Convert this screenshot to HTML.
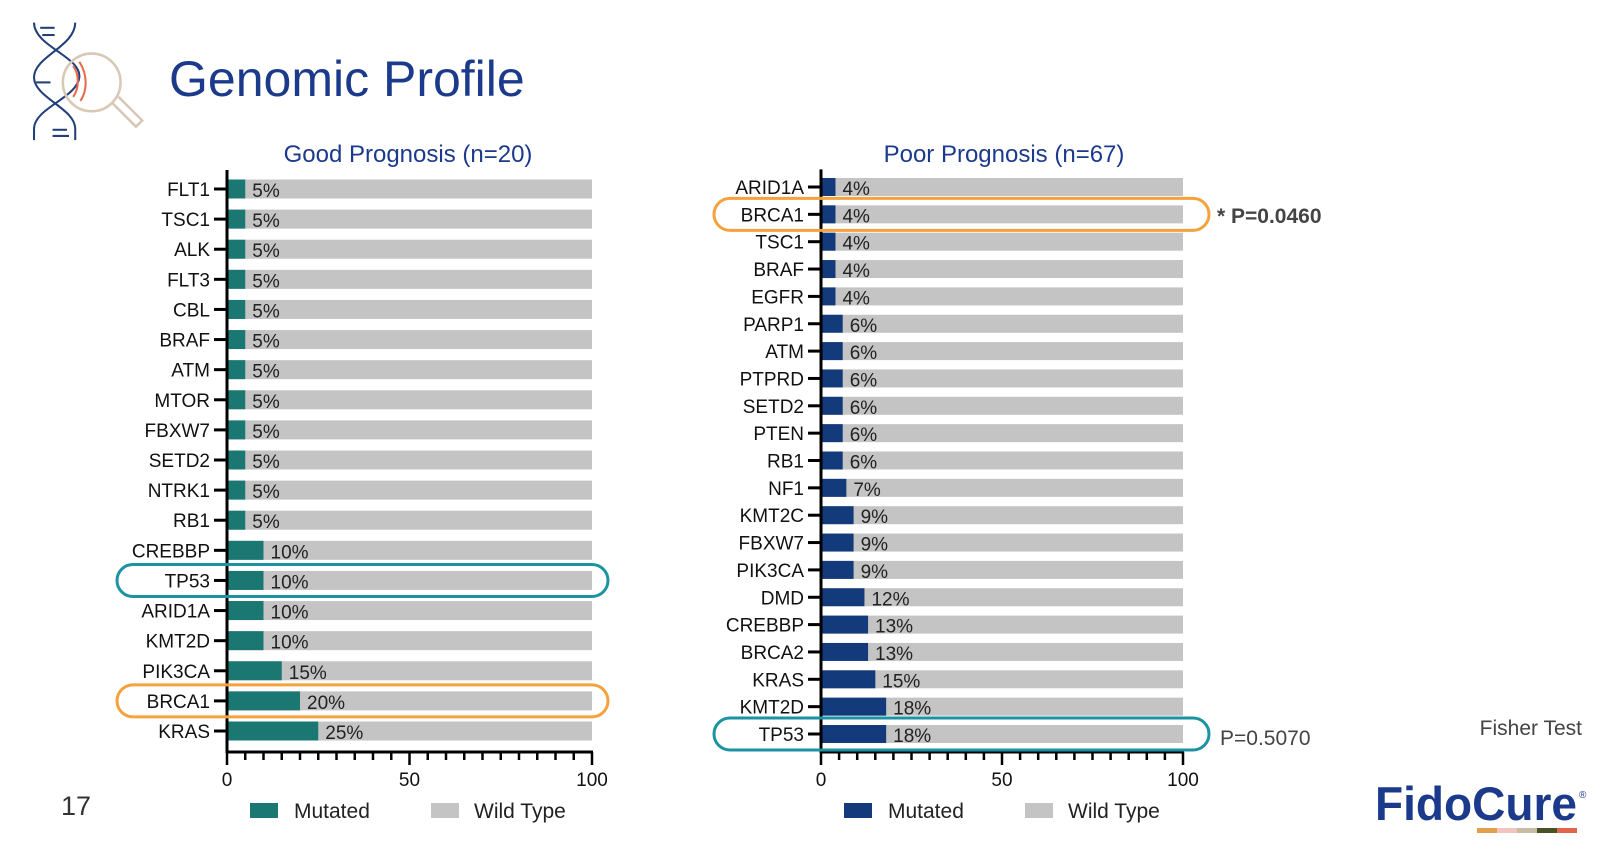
<!DOCTYPE html>
<html><head><meta charset="utf-8">
<style>
body{margin:0;width:1600px;height:847px;background:#fff;overflow:hidden;font-family:"Liberation Sans",Arial,sans-serif}
svg{position:absolute;left:0;top:0}
</style></head>
<body>
<svg id="s" width="1600" height="847" xmlns="http://www.w3.org/2000/svg">
  <g fill="none" stroke-width="2" transform="translate(-1,0) scale(1.03)">
    <path d="M34,22 C34,45 80,55 78,75 C76,95 34,105 34,125 C34,130 34,134 34,136" stroke="#233f7a"/>
    <path d="M74,22 C74,45 34,55 34,75 C34,95 74,105 74,125 L74,136" stroke="#233f7a"/>
    <line x1="40" y1="27" x2="54" y2="27" stroke="#233f7a"/><line x1="42" y1="34" x2="54" y2="34" stroke="#233f7a"/>
    <line x1="36" y1="80" x2="50" y2="80" stroke="#233f7a"/>
    <line x1="52" y1="126" x2="66" y2="126" stroke="#233f7a"/><line x1="52" y1="132" x2="68" y2="132" stroke="#233f7a"/>
    <circle cx="90" cy="80" r="28" stroke="#d8c8b6" stroke-width="2.5"/>
    <path d="M110,100 L133,123 L139,117 L116,94" stroke="#d8c8b6" stroke-width="2.5"/>
    <path d="M72,64 C78,72 78,86 72,94" stroke="#e86a4a"/><path d="M78,60 C86,72 86,88 79,98" stroke="#e86a4a"/>
  </g>
  <text x="169" y="96" font-size="50" fill="#1c3a8c">Genomic Profile</text>
  <text x="408" y="162" font-size="24" fill="#1c3a8c" text-anchor="middle">Good Prognosis (n=20)</text>
  <text x="1004" y="162" font-size="24" fill="#1c3a8c" text-anchor="middle">Poor Prognosis (n=67)</text>
  <text x="1217" y="223" font-size="21" font-weight="bold" fill="#444">* P=0.0460</text>
  <text x="1220" y="745" font-size="21" fill="#444">P=0.5070</text>
  <text x="1582" y="735" font-size="21" fill="#444" text-anchor="end">Fisher Test</text>
  <text x="61" y="815" font-size="27" fill="#333">17</text>
  <g>
    <text x="1375" y="820" font-size="47" font-weight="bold" fill="#1c3a8c" textLength="202" lengthAdjust="spacingAndGlyphs">FidoCure</text>
    <text x="1579" y="798" font-size="10" fill="#1c3a8c">®</text>
    <rect x="1477" y="828" width="20" height="5" fill="#e3a04a"/><rect x="1497" y="828" width="20" height="5" fill="#f2c4bd"/>
    <rect x="1517" y="828" width="20" height="5" fill="#c9bca4"/><rect x="1537" y="828" width="20" height="5" fill="#4a5225"/>
    <rect x="1557" y="828" width="20" height="5" fill="#e0654a"/>
  </g>
  <g id="g1"></g>
  <g id="g2"></g>
</svg>
<script>
const goodGenes=["FLT1","TSC1","ALK","FLT3","CBL","BRAF","ATM","MTOR","FBXW7","SETD2","NTRK1","RB1","CREBBP","TP53","ARID1A","KMT2D","PIK3CA","BRCA1","KRAS"];
const goodValues=[5,5,5,5,5,5,5,5,5,5,5,5,10,10,10,10,15,20,25];
const poorGenes=["ARID1A","BRCA1","TSC1","BRAF","EGFR","PARP1","ATM","PTPRD","SETD2","PTEN","RB1","NF1","KMT2C","FBXW7","PIK3CA","DMD","CREBBP","BRCA2","KRAS","KMT2D","TP53"];
const poorValues=[4,4,4,4,4,6,6,6,6,6,6,7,9,9,9,12,13,13,15,18,18];
const xTicks=[0,50,100];
const NS="http://www.w3.org/2000/svg";
function mk(p,t,a,txt){const e=document.createElementNS(NS,t);for(const k in a)e.setAttribute(k,a[k]);if(txt!=null)e.textContent=txt;p.appendChild(e);return e;}
function chart(g,genes,vals,cfg){
  const x=v=>cfg.x0+(cfg.x1-cfg.x0)*v/100;
  const step=(cfg.yLast-cfg.yFirst)/(genes.length-1);
  const y=i=>cfg.yFirst+i*step;
  genes.forEach((gn,i)=>{
    const r=mk(g,"rect",{x:x(0),y:y(i)-cfg.bh/2,width:x(100)-x(0),height:cfg.bh,fill:"#c4c4c4"});
    
    
    const m=mk(g,"rect",{x:x(0),y:y(i)-cfg.bh/2,width:x(vals[i])-x(0),height:cfg.bh,fill:cfg.color});
    
    
    const t=mk(g,"text",{x:x(vals[i])+7,y:y(i)+8,"font-size":19,fill:"#222"},vals[i]+"%");
    
    
    const l=mk(g,"text",{x:x(0)-17,y:y(i)+7,"font-size":19,fill:"#111","text-anchor":"end"},gn);
    
    
    mk(g,"line",{x1:x(0)-13,x2:x(0),y1:y(i),y2:y(i),stroke:"#000","stroke-width":3});
  });
  const ax=cfg.axisY;
  mk(g,"line",{x1:x(0),x2:x(0),y1:cfg.yFirst-step/2-4,y2:ax+1,stroke:"#000","stroke-width":3});
  mk(g,"line",{x1:x(0)-1,x2:x(100)+1,y1:ax,y2:ax,stroke:"#000","stroke-width":3});
  for(let v=0;v<=100;v+=5){mk(g,"line",{x1:x(v),x2:x(v),y1:ax,y2:ax+(v%50==0?13:8),stroke:"#000","stroke-width":2.5});}
  xTicks.forEach(v=>{const t=mk(g,"text",{x:x(v),y:ax+34,"font-size":19,"text-anchor":"middle",fill:"#111"},v);
    
    });
  const ly=ax+66;
  mk(g,"rect",{x:x(0)+23,y:ly-15,width:28,height:15,fill:cfg.color});
  mk(g,"text",{x:x(0)+67,y:ly,"font-size":21,fill:"#222"},"Mutated");
  mk(g,"rect",{x:x(0)+204,y:ly-15,width:28,height:15,fill:"#c4c4c4"});
  mk(g,"text",{x:x(0)+247,y:ly,"font-size":21,fill:"#222"},"Wild Type");
  cfg.hl.forEach(h=>{const i=genes.indexOf(h.g);
    const e=mk(g,"rect",{x:cfg.hx0,y:y(i)-16,width:cfg.hx1-cfg.hx0,height:32,rx:16,fill:"none",stroke:h.c,"stroke-width":3});
    
    });
}
chart(document.getElementById("g1"),goodGenes,goodValues,{x0:227,x1:592,yFirst:189,yLast:731,bh:19,color:"#1a7772",axisY:752,hx0:117,hx1:608,
  hl:[{g:"TP53",c:"#1b93a2"},{g:"BRCA1",c:"#f5a13c"}]});
chart(document.getElementById("g2"),poorGenes,poorValues,{x0:821,x1:1183,yFirst:187,yLast:734,bh:18,color:"#133a7a",axisY:752,hx0:714,hx1:1209,
  hl:[{g:"BRCA1",c:"#f5a13c"},{g:"TP53",c:"#1b93a2"}]});
</script>
</body></html>
